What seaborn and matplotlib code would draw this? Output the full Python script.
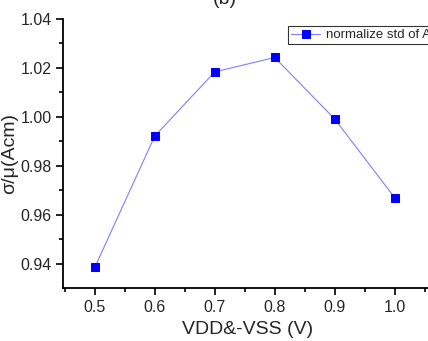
import numpy as np
import pandas as pd
import matplotlib
matplotlib.use("Agg")
import matplotlib.pyplot as plt
import seaborn as sns
from matplotlib.ticker import MultipleLocator, AutoMinorLocator

# データ
vdd = [0.5, 0.6, 0.7, 0.8, 0.9, 1.0]
norm_std = [0.9386, 0.9922, 1.0184, 1.0243, 0.9992, 0.9671]
series_name = "normalize std of Acm"

df = pd.DataFrame({"vdd": vdd, "std": norm_std})

sns.set_style("ticks")
plt.rcParams['font.family'] = ['Liberation Sans', 'DejaVu Sans']

fig = plt.figure(figsize=(4.28, 3.41), dpi=100)
ax = fig.add_axes([63 / 428, 53 / 341, 370 / 428, 269 / 341])

sns.lineplot(data=df, x="vdd", y="std", ax=ax, color="#0000ff", lw=0.8,
             marker="s", markersize=6, markeredgecolor="#0000ff",
             label=series_name, alpha=1)
ax.lines[0].set_color("#7f7fff")
ax.lines[0].set_markerfacecolor("#0000ff")
ax.lines[0].set_markeredgecolor("#0000ff")

ax.set_xlim(0.447, 1.064)
ax.set_ylim(0.9302, 1.04)
ax.xaxis.set_major_locator(MultipleLocator(0.1))
ax.xaxis.set_minor_locator(AutoMinorLocator(2))
ax.yaxis.set_major_locator(MultipleLocator(0.02))
ax.yaxis.set_minor_locator(AutoMinorLocator(2))
ax.xaxis.set_major_formatter(plt.FormatStrFormatter("%.1f"))
ax.yaxis.set_major_formatter(plt.FormatStrFormatter("%.2f"))
ax.tick_params(which="major", direction="out", length=5, width=1.2, labelsize=11.5, color="black")
ax.tick_params(which="minor", direction="out", length=3, width=1.2, color="black")
ax.tick_params(axis="x", pad=4)
ax.tick_params(axis="y", pad=3)

for s in ["top", "right"]:
    ax.spines[s].set_visible(False)
for s in ["left", "bottom"]:
    ax.spines[s].set_linewidth(1.3)
    ax.spines[s].set_color("black")

ax.set_xlabel("VDD&-VSS (V)", fontsize=14, labelpad=4)
ax.set_ylabel("σ/μ(Acm)", fontsize=14, labelpad=2)

# タイトル（上が切れている）
fig.text(0.525, 1.0, "(b)", fontsize=14, ha="center", va="center")

leg = ax.legend(loc="upper left", bbox_to_anchor=(0.59, 1.0), frameon=True,
                fancybox=False, fontsize=9.5, handlelength=2.2, borderpad=0.25,
                handletextpad=0.4, markerscale=0.9)
leg.get_frame().set_edgecolor("black")
leg.get_frame().set_linewidth(0.8)

fig.savefig("out.png", dpi=100)
